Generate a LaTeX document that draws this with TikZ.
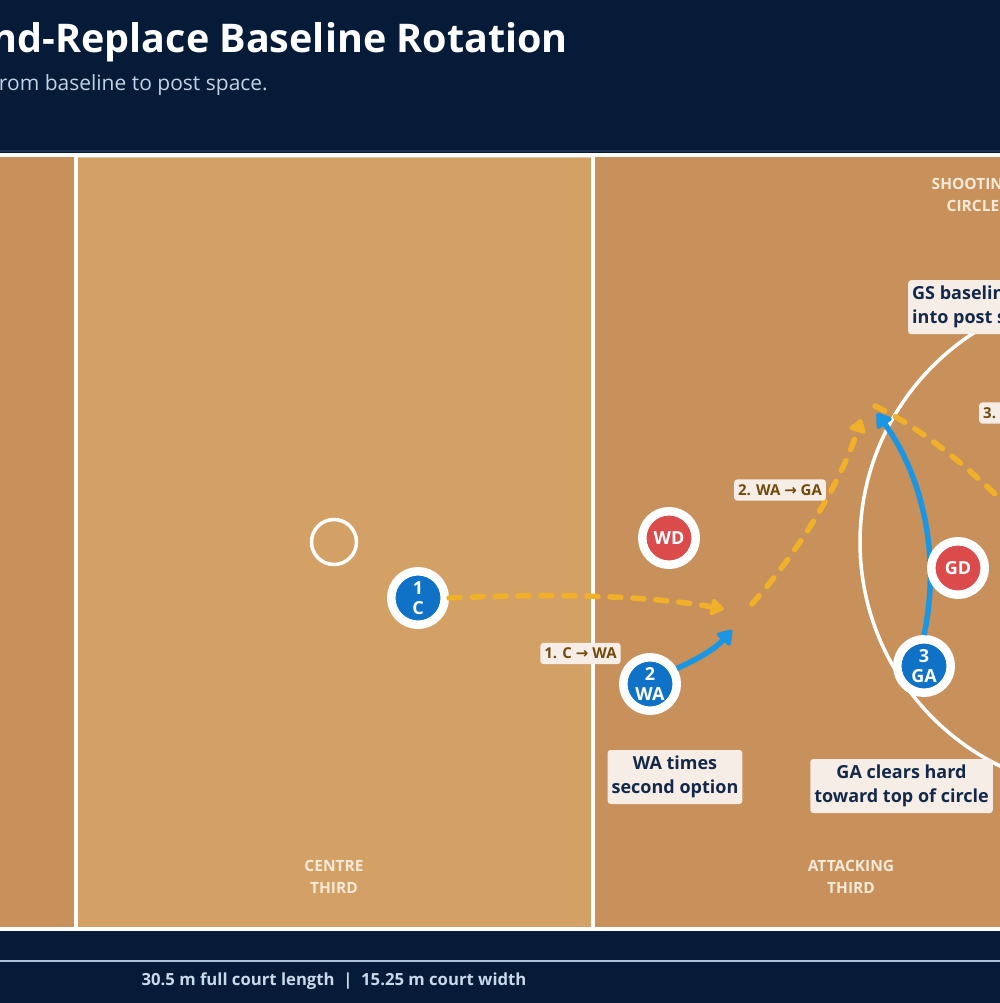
\documentclass[tikz,border=0pt]{standalone}
\usepackage{fontspec}
\setmainfont{Open Sans}
\newfontfamily\arrowfont{DejaVu Sans}
\usetikzlibrary{arrows.meta}
\definecolor{navy}{HTML}{061B38}
\definecolor{navyline}{HTML}{203454}
\definecolor{court}{HTML}{C8905A}
\definecolor{centre}{HTML}{D3A066}
\definecolor{centreedge}{HTML}{E4C6A0}
\definecolor{pblue}{HTML}{0F72C6}
\definecolor{pred}{HTML}{DC4B4B}
\definecolor{ablue}{HTML}{1A96E3}
\definecolor{aorange}{HTML}{F0B02A}
\definecolor{boxc}{HTML}{F6EEE6}
\definecolor{boxtext}{HTML}{14294A}
\definecolor{passtext}{HTML}{70490C}
\definecolor{zonetext}{HTML}{F8EAD8}
\definecolor{subt}{HTML}{C3D2E4}
\definecolor{foot}{HTML}{C9D8EA}
\definecolor{footline}{HTML}{AAC1DA}
\newcommand{\ar}{{\arrowfont\char"2192}}
\tikzset{
  player/.style={circle, draw=white, line width=8.5pt, minimum size=53.5pt, inner sep=0pt,
    text=white, align=center, font=\bfseries\fontsize{18}{19.5}\selectfont},
  attacker/.style={player, fill=pblue},
  defender/.style={player, fill=pred},
  callout/.style={fill=boxc, rounded corners=3pt, text=boxtext, align=center,
    inner xsep=4pt, inner ysep=6pt, font=\bfseries\fontsize{18}{24}\selectfont},
  passlabel/.style={fill=boxc, rounded corners=3pt, text=passtext, inner xsep=4pt, inner ysep=5pt,
    font=\bfseries\fontsize{15}{18}\selectfont},
  zone/.style={text=zonetext, align=center, font=\bfseries\fontsize{15.5}{22}\selectfont},
  pass/.style={draw=aorange, line width=5.5pt, line cap=round, dash pattern=on 11pt off 12pt,
    -{Triangle[length=15pt,width=19pt,round]}},
  passnoarrow/.style={draw=aorange, line width=5.5pt, line cap=round, dash pattern=on 11pt off 12pt},
  run/.style={draw=ablue, line width=5.5pt, -{Triangle[length=16pt,width=20pt,round]}},
  courtline/.style={draw=white, line width=3.5pt}
}
\begin{document}
\begin{tikzpicture}[x=1pt,y=-1pt]
\useasboundingbox (0,0) rectangle (1000,1003);
\clip (0,0) rectangle (1000,1003);
\fill[navy] (0,0) rectangle (1000,1003);
\draw[navyline, line width=1.5pt] (0,151) -- (1000,151);
% court
\fill[court] (-439,155) rectangle (1109,929);
\fill[centre] (77,155) rectangle (593,929);
\draw[centreedge, line width=2pt] (78,157.5) -- (591,157.5);
\draw[courtline] (-439,155) rectangle (1109,929);
\draw[courtline] (76,155) -- (76,929);
\draw[courtline] (593,155) -- (593,929);
\draw[courtline] (1109,542) circle[radius=249];
\draw[courtline] (334,542) circle[radius=22.5];
% header
\node[anchor=base east, text=white, font=\bfseries\fontsize{39.5}{46}\selectfont, inner sep=0pt] (title) at (568,53) {nd-Replace Baseline Rotation};
\node[anchor=base east, text=subt, font=\fontsize{21}{25}\selectfont, inner sep=0pt] (subtitle) at (268,91) {rom baseline to post space.};
% zone labels
\node[zone] (zcentre) at (334,877) {CENTRE\\THIRD};
\node[zone] (zattack) at (851,877) {ATTACKING\\THIRD};
\node[zone] (zcircle) at (973,195) {SHOOTING\\CIRCLE};
% players (run behind defenders)
\node[attacker] (C) at (418,598) {1\\C};
\node[attacker] (WA) at (650,684) {2\\WA};
\node[attacker] (GA) at (924,666) {3\\GA};
\coordinate (waend) at (732,630);
\coordinate (gaend) at (877,413);
\coordinate (p1end) at (724,609);
\coordinate (p2start) at (752,604);
\coordinate (p2end) at (861,419);
\coordinate (p3start) at (875,406);
\coordinate (p3end) at (1045,545);
\draw[run] (GA.north) .. controls (940,560) and (925,480) .. (gaend);
\node[defender] (WD) at (669,538) {WD};
\node[defender] (GD) at (958,568) {GD};
\draw[run] (WA.30) .. controls (700,658) and (716,648) .. (waend);
% passes
\draw[pass] (C.east) .. controls (560,593) and (650,596) .. (p1end);
\draw[pass] (p2start) .. controls (800,550) and (842,480) .. (p2end);
\draw[passnoarrow] (p3start) .. controls (930,432) and (990,485) .. (p3end);
% pass labels
\node[passlabel] (l1) at (580.5,653.5) {1. C \ar{} WA};
\node[passlabel] (l2) at (780,490) {2. WA \ar{} GA};
\node[passlabel, anchor=west] (l3) at (979,413) {3. GA \ar{} GS};
% callouts
\node[callout] (c1) at (675,777) {WA times\\second option};
\node[callout] (c2) at (901.5,786) {GA clears hard\\toward top of circle};
\node[callout, anchor=north west, align=left] (c3) at (908,280) {GS baseline drives\\into post space};
% footer
\draw[footline, line width=2pt] (0,961) -- (1000,961);
\node[anchor=base, text=foot, font=\bfseries\fontsize{16.7}{19}\selectfont, inner sep=0pt] (footer) at (334,985) {30.5 m full court length \ |\ \ 15.25 m court width};
\end{tikzpicture}
\end{document}
